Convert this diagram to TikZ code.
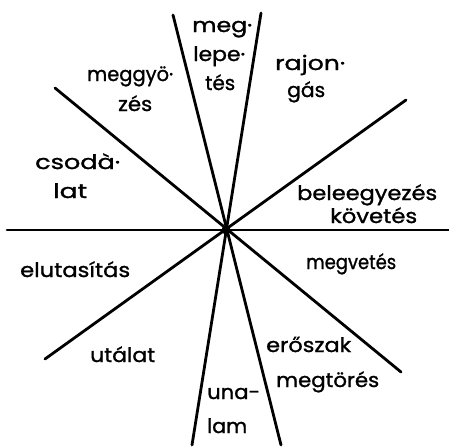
\documentclass[tikz,border=0pt]{standalone}
\usepackage{fontspec}
\usepackage{graphicx}
\newfontface\hand{Poppins}[FakeBold=1.2]
\newcommand{\fitw}[2]{\resizebox{#1pt}{\height}{#2}}
\begin{document}
\begin{tikzpicture}[x=1pt,y=-1pt,
  ray/.style={line width=2.8pt,line cap=round},
  lbl/.style={font=\hand\fontsize{20}{21}\selectfont,inner sep=0pt,anchor=base west}]
\useasboundingbox (0,0) rectangle (449,447);
\coordinate (c) at (226,230);
\coordinate (h1) at (7,230);
\coordinate (h2) at (449,230);
\coordinate (v1) at (173,15);
\coordinate (v2) at (281,445);
\coordinate (w1) at (261,13);
\coordinate (w2) at (192,445);
\coordinate (d1) at (55,88);
\coordinate (d2) at (401,372);
\coordinate (e1) at (406,100);
\coordinate (e2) at (45,359);
\draw[ray] (h1) -- (h2);
\draw[ray] (v1) -- (v2);
\draw[ray] (w1) -- (w2);
\draw[ray] (d1) -- (d2);
\draw[ray] (e1) -- (e2);
\fill (c) circle (4.5);
\node[lbl] (meg) at (192,32) {\fitw{60}{meg·}};
\node[lbl] (lepe) at (193,61) {\fitw{52}{lepe·}};
\node[lbl] (tes) at (205,90) {\fitw{30}{tés}};
\node[lbl] (meggyo) at (87,81) {\fitw{86}{meggyö·}};
\node[lbl] (zes) at (118,111) {\fitw{34}{zés}};
\node[lbl] (rajon) at (275,70) {\fitw{70}{rajon·}};
\node[lbl] (gas) at (287,97) {\fitw{38}{gás}};
\node[lbl] (csoda) at (35,169) {\fitw{85}{csodà·}};
\node[lbl] (lat) at (53,198) {\fitw{34}{lat}};
\node[lbl] (bele) at (297,200) {\fitw{140}{beleegyezés}};
\node[lbl] (kov) at (330,223) {\fitw{87}{követés}};
\node[lbl] (elut) at (20,277) {\fitw{110}{elutasítás}};
\node[lbl] (megv) at (306,269) {\fitw{90}{megvetés}};
\node[lbl] (utal) at (90,362) {\fitw{65}{utálat}};
\node[lbl] (ero) at (266,352) {\fitw{85}{erőszak}};
\node[lbl] (megt) at (276,387) {\fitw{103}{megtörés}};
\node[lbl] (una) at (207,399) {\fitw{53}{una-}};
\node[lbl] (lam) at (207,433) {\fitw{40}{lam}};
\end{tikzpicture}
\end{document}
